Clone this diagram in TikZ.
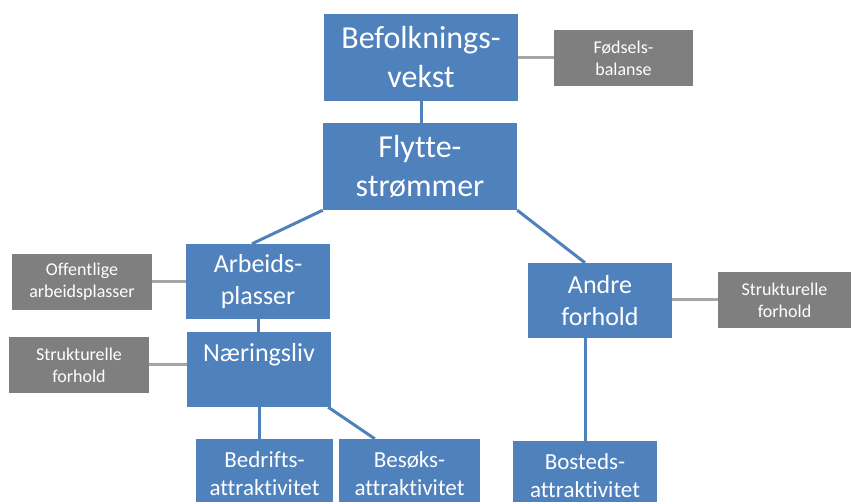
\documentclass[tikz,border=0pt]{standalone}
\usepackage{fontspec}
\setmainfont[Ligatures=NoCommon]{Carlito}
\usetikzlibrary{calc}
\definecolor{boxblue}{HTML}{4F81BD}
\definecolor{boxgrey}{HTML}{7F7F7F}
\definecolor{lightline}{HTML}{A6A6A6}
\tikzset{
  bluebox/.style={fill=boxblue, text=white, align=center, inner sep=0pt, anchor=center},
  greybox/.style={fill=boxgrey, text=white, align=center, inner sep=0pt, anchor=center,
    font=\fontsize{18}{22}\selectfont},
  bigtext/.style={font=\fontsize{32}{39}\selectfont},
  midtext/.style={font=\fontsize{26}{32}\selectfont},
  smalltext/.style={font=\fontsize{23}{28}\selectfont},
  blueline/.style={draw=boxblue, line width=3pt},
  greyline/.style={draw=lightline, line width=3pt},
}
\begin{document}
\begin{tikzpicture}[x=1pt,y=-1pt]
\useasboundingbox[clip] (0,0) rectangle (851,502);
\fill[white] (0,0) rectangle (851,502);
% blue boxes
\node[bluebox,bigtext,minimum width=194,minimum height=87] (bef) at (421,57.5) {Befolknings-\\vekst};
\node[bluebox,bigtext,minimum width=194,minimum height=87] (fly) at (420,166.5) {Flytte-\\strømmer};
\node[bluebox,midtext,minimum width=144,minimum height=75] (arb) at (258,281.5) {Arbeids-\\plasser};
\node[bluebox,midtext,minimum width=144,minimum height=75] (nae) at (259,369.5) {Næringsliv\\[-8pt]\strut};
\node[bluebox,midtext,minimum width=144,minimum height=75] (and) at (600,300.5) {Andre\\forhold};
\node[bluebox,smalltext,minimum width=137,minimum height=70] (bed) at (264.5,474) {Bedrifts-\\attraktivitet};
\node[bluebox,smalltext,minimum width=141,minimum height=70] (bes) at (409.5,474) {Besøks-\\attraktivitet};
\node[bluebox,smalltext,minimum width=144,minimum height=70] (bos) at (585,476) {Bosteds-\\attraktivitet};
% grey boxes
\node[greybox,minimum width=139,minimum height=56] (fod) at (623.5,58) {Fødsels-\\balanse};
\node[greybox,minimum width=140,minimum height=56] (off) at (82,282) {Offentlige\\arbeidsplasser};
\node[greybox,minimum width=140,minimum height=56] (stl) at (79,365) {Strukturelle\\forhold};
\node[greybox,minimum width=133,minimum height=56] (str) at (784.5,300) {Strukturelle\\forhold};
% grey connectors
\draw[greyline] (bef.east |- fod.west) -- (fod.west);
\draw[greyline] (off.east) -- (off.east -| arb.west);
\draw[greyline] (stl.east) -- (stl.east -| nae.west);
\draw[greyline] (and.east |- str.west) -- (str.west);
% blue connectors
\draw[blueline] (bef.south) -- (bef.south |- fly.north);
\draw[blueline] (fly.south west) -- ($(arb.north)+(-6,0)$);
\draw[blueline] (fly.south east) -- ($(and.north)+(-15,0)$);
\draw[blueline] (arb.south) -- (arb.south |- nae.north);
\draw[blueline] (nae.south) -- (nae.south |- bed.north);
\draw[blueline] ($(nae.south east)+(-3,0)$) -- ($(bes.north west)+(36,0)$);
\draw[blueline] (bos.north) -- (bos.north |- and.south);
\end{tikzpicture}
\end{document}
